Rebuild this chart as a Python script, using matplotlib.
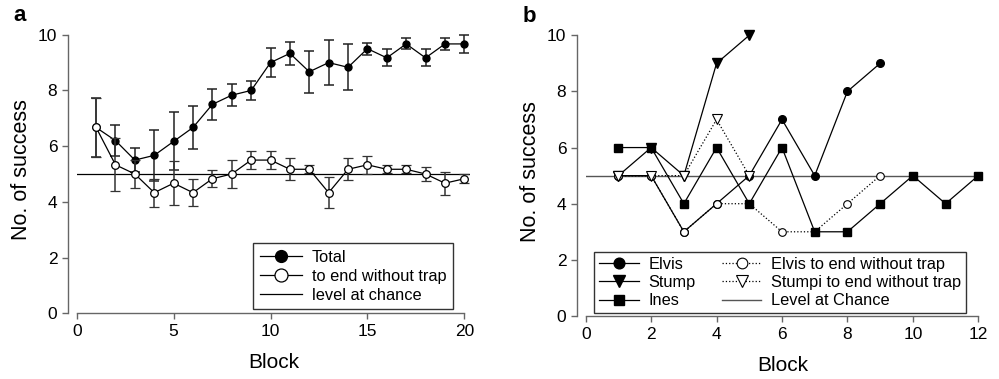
import numpy as np
import matplotlib.pyplot as plt

plt.rcParams["font.family"] = ["Liberation Sans", "DejaVu Sans"]

# Panel a: mean successes per block
blocks_a = np.arange(1, 21)
total = [6.67, 6.2, 5.5, 5.67, 6.17, 6.67, 7.5, 7.83, 8.0, 9.0,
         9.33, 8.67, 9.0, 8.83, 9.5, 9.17, 9.67, 9.17, 9.67, 9.67]
total_err = [1.05, 0.57, 0.42, 0.92, 1.04, 0.76, 0.56, 0.4, 0.35, 0.52,
             0.41, 0.75, 0.82, 0.83, 0.21, 0.3, 0.2, 0.3, 0.21, 0.33]
no_trap = [6.67, 5.33, 5.0, 4.33, 4.67, 4.33, 4.83, 5.0, 5.5, 5.5,
           5.17, 5.17, 4.33, 5.17, 5.33, 5.17, 5.17, 5.0, 4.67, 4.83]
no_trap_err = [1.05, 0.95, 0.5, 0.5, 0.8, 0.49, 0.3, 0.5, 0.33, 0.33,
               0.4, 0.15, 0.55, 0.4, 0.32, 0.15, 0.15, 0.25, 0.41, 0.16]

# Panel b: individual animals
elvis_x = [1, 2, 3, 4, 5, 6, 7, 8, 9]
elvis = [5, 5, 3, 4, 5, 7, 5, 8, 9]
stump_x = [1, 2, 3, 4, 5]
stump = [5, 6, 5, 9, 10]
ines_x = [1, 2, 3, 4, 5, 6, 7, 8, 9, 10, 11, 12]
ines = [6, 6, 4, 6, 4, 6, 3, 3, 4, 5, 4, 5]
elvis_nt_x = [1, 2, 3, 4, 5, 6, 7, 8, 9]
elvis_nt = [5, 5, 3, 4, 4, 3, 3, 4, 5]
stumpi_nt_x = [1, 2, 3, 4, 5]
stumpi_nt = [5, 5, 5, 7, 5]

chance = 5

fig = plt.figure(figsize=(9.99, 3.79), dpi=100)
ax1 = fig.add_axes([0.0768, 0.1734, 0.3938, 0.757])
ax2 = fig.add_axes([0.5863, 0.1662, 0.3946, 0.763])

spine_col = "#666666"


def style_axes(ax, xmax, xticks):
    for s in ["top", "right"]:
        ax.spines[s].set_visible(False)
    ax.spines["left"].set_position(("outward", 6))
    ax.spines["left"].set_bounds(0, 10)
    ax.spines["bottom"].set_bounds(0, xticks[-1])
    for s in ["left", "bottom"]:
        ax.spines[s].set_color(spine_col)
        ax.spines[s].set_linewidth(1.0)
    ax.set_xlim(0, xmax)
    ax.set_ylim(0, 10.3)
    ax.set_xticks(xticks)
    ax.set_yticks(range(0, 11, 2))
    ax.tick_params(direction="out", length=4, width=1, color=spine_col,
                   labelsize=12.5, pad=4)
    ax.set_xlabel("Block", fontsize=15, labelpad=10)
    ax.set_ylabel("No. of success", fontsize=15.5, labelpad=4)


# Panel a
l_ch = ax1.axhline(chance, color="black", lw=0.9, zorder=1,
                   label="level at chance")
eb_t = ax1.errorbar(blocks_a, total, yerr=total_err, color="black", lw=0.9,
                    ecolor="#222222", elinewidth=1.1, capsize=3.5,
                    capthick=1.1, marker="o", ms=5, mfc="black", mec="black",
                    zorder=2, label="Total")
eb_n = ax1.errorbar(blocks_a, no_trap, yerr=no_trap_err, color="black",
                    lw=0.9, ecolor="#333333", elinewidth=1.1, capsize=3.5,
                    capthick=1.1, marker="o", ms=5.5, mfc="white", mec="black",
                    mew=0.9, zorder=3, label="to end without trap")
style_axes(ax1, 20.3, range(0, 21, 5))

leg1 = ax1.legend([eb_t.lines[0], eb_n.lines[0], l_ch],
                  ["Total", "to end without trap", "level at chance"],
                  loc="lower right", bbox_to_anchor=(0.957, 0.014),
                  borderaxespad=0, fontsize=11.8, frameon=True, fancybox=False,
                  edgecolor="black", markerscale=1.7, handlelength=2.6,
                  labelspacing=0.25, borderpad=0.4, handletextpad=0.6)
leg1.get_frame().set_linewidth(1.0)

ax1.text(-0.16, 1.0, "a", transform=ax1.transAxes, fontsize=16,
         fontweight="bold", va="bottom", ha="left")

# Panel b
l_e, = ax2.plot(elvis_x, elvis, color="black", lw=0.9, marker="o", ms=5.5,
                mfc="black", mec="black", zorder=2, label="Elvis")
l_s, = ax2.plot(stump_x, stump, color="black", lw=0.9, marker="v", ms=6.5,
                mfc="black", mec="black", zorder=2, label="Stump",
                clip_on=False)
l_en, = ax2.plot(elvis_nt_x, elvis_nt, color="black", lw=0.9, ls=":",
                 marker="o", ms=5.5, mfc="white", mec="black", mew=0.8,
                 zorder=3, label="Elvis to end without trap")
l_sn, = ax2.plot(stumpi_nt_x, stumpi_nt, color="black", lw=0.9, ls=":",
                 marker="v", ms=6.5, mfc="white", mec="black", mew=0.8,
                 zorder=3, label="Stumpi to end without trap")
l_i, = ax2.plot(ines_x, ines, color="black", lw=0.9, marker="s", ms=5.5,
                mfc="black", mec="black", zorder=4, label="Ines",
                clip_on=False)
l_c = ax2.axhline(chance, color="#555555", lw=1.0, zorder=1,
                  label="Level at Chance")
style_axes(ax2, 12.05, range(0, 13, 2))

handles_b = [l_e, l_s, l_i, l_en, l_sn, l_c]
leg2 = ax2.legend(handles_b, [h.get_label() for h in handles_b],
                  ncol=2, loc="lower left", bbox_to_anchor=(0.022, 0.009),
                  borderaxespad=0, fontsize=11.8, frameon=True, fancybox=False,
                  edgecolor="black", markerscale=1.4, handlelength=2.4,
                  labelspacing=0.2, borderpad=0.3, handletextpad=0.6,
                  columnspacing=1.6)
leg2.get_frame().set_linewidth(1.0)

ax2.text(-0.16, 1.0, "b", transform=ax2.transAxes, fontsize=16,
         fontweight="bold", va="bottom", ha="left")

fig.savefig("out.png", dpi=100)
